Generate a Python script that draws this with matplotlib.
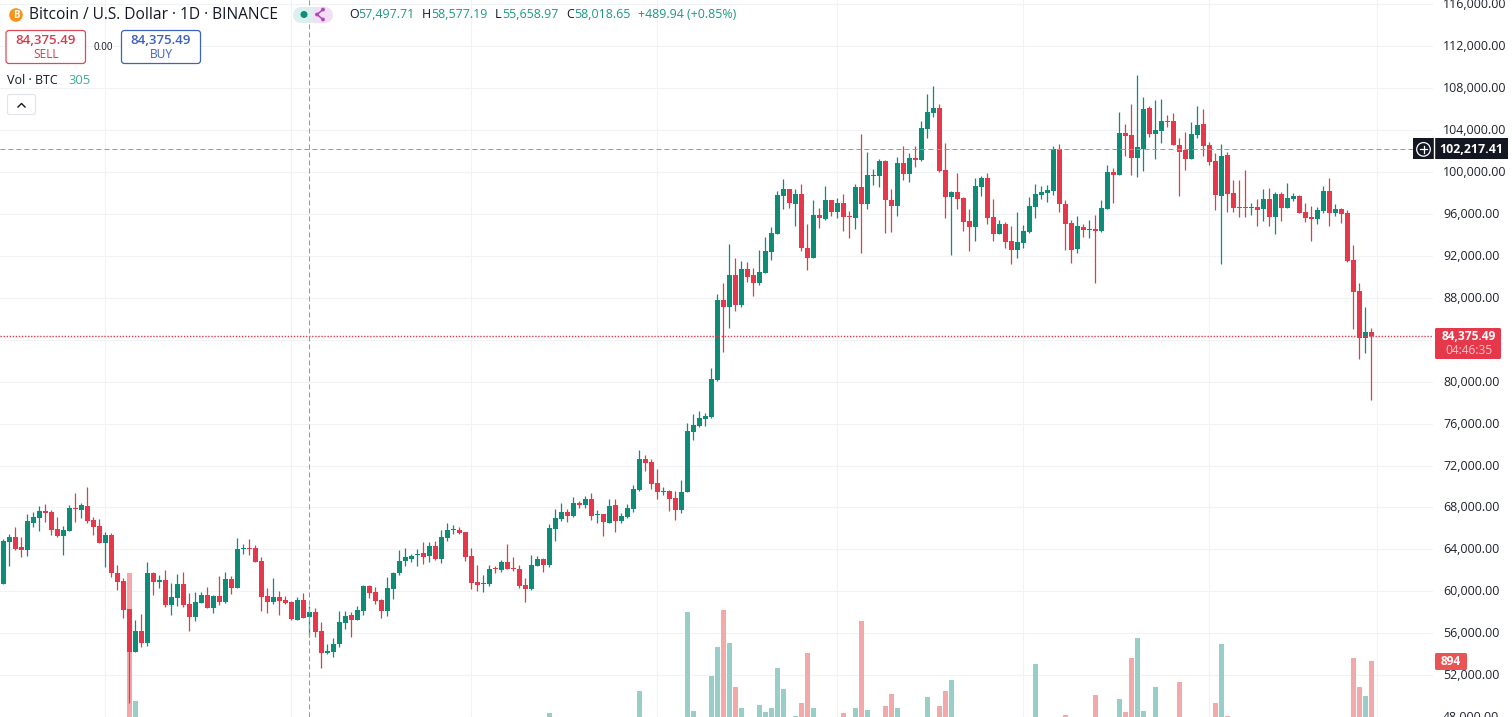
# -*- coding: utf-8 -*-
"""
BTC/USD daily chart, TradingView style
"""

import numpy as np
import matplotlib
matplotlib.use("Agg")
import matplotlib.pyplot as plt
import matplotlib.transforms as mtransforms
from matplotlib.patches import Circle, FancyBboxPatch, Rectangle


# =====================================
#          data
# =====================================
opens = [
    60730, 64700, 65170, 64220, 63940, 66510, 66990, 67650, 67560, 65940,
    65270, 65750, 67940, 67750, 68130, 66790, 66220, 64600, 65370, 61750,
    60980, 58320, 54220, 56220, 55080, 61750, 60890, 61080, 58700, 59370,
    60700, 58790, 57560, 58890, 59650, 58410, 59560, 58980, 61170, 60320,
    64030, 64130, 64130, 62890, 59560, 58980, 59460, 59170, 58980, 57270,
    59170, 57497.71, 58030, 56220, 54130, 54220, 54980, 56980, 57750, 57270,
    58130, 60510, 59940, 59170, 58130, 60220, 61750, 62890, 63080, 63460,
    63650, 63370, 64320, 63080, 65080, 65840, 65840, 65650, 63370, 60890,
    60700, 60700, 62220, 62030, 62790, 62220, 62130, 60600, 60220, 62410,
    63080, 62510, 65940, 66890, 67560, 67170, 68410, 68220, 68790, 67270,
    67370, 66510, 68220, 66700, 67080, 67840, 69650, 72600, 72320, 70320,
    69460, 69560, 68890, 67750, 69430, 75170, 75750, 76410, 76600, 80130,
    87750, 87080, 90220, 87270, 90790, 90220, 89370, 90410, 92410, 94130,
    97750, 98410, 96980, 97940, 92790, 91840, 95940, 95560, 97370, 96220,
    97080, 95840, 95650, 98600, 96980, 99650, 99650, 101080, 97370, 96790,
    100890, 99840, 101370, 101170, 104130, 105650, 106130, 100220, 97650, 98130,
    97560, 95370, 94790, 98600, 99460, 95750, 94130, 95080, 93460, 92600,
    93270, 94320, 96700, 97840, 98030, 98220, 102220, 96980, 95170, 92700,
    94790, 94510, 94600, 94410, 96510, 100030, 99750, 103750, 103560, 101370,
    102220, 106130, 103650, 103940, 104890, 104890, 102600, 102130, 101270, 103560,
    104600, 102600, 101080, 97750, 101650, 98030, 96700, 96700, 96600, 96700,
    96510, 97460, 95750, 97940, 96600, 97460, 97750, 96220, 95750, 95560,
    96320, 98220, 96130, 96510, 96130, 91650, 88700, 84130, 84700,
]
highs = [
    64950, 65460, 66130, 65170, 67370, 67560, 68130, 68320, 67750, 67080,
    66220, 68220, 69370, 68380, 69940, 67080, 66890, 65650, 65560, 62510,
    61270, 58320, 57270, 57840, 62790, 61840, 61560, 62030, 60790, 61650,
    61840, 59840, 59940, 59940, 60410, 59650, 61460, 61840, 61460, 65080,
    64510, 64980, 64410, 63270, 60320, 61270, 60030, 59560, 59080, 59460,
    59840, 58577.19, 58410, 57080, 54980, 55560, 58130, 58130, 58030, 58600,
    60600, 60600, 60410, 59270, 61370, 61840, 63940, 64130, 63560, 64030,
    64700, 64700, 64790, 65840, 66510, 66320, 66130, 65650, 64130, 62510,
    61560, 62510, 62410, 62980, 64510, 63270, 62510, 61270, 63460, 63370,
    63170, 66410, 67840, 68410, 67840, 68980, 68600, 69080, 69370, 67750,
    67370, 68790, 68790, 67460, 68320, 70130, 73460, 72980, 72600, 71650,
    69940, 69650, 69560, 70600, 76090, 76890, 77170, 76980, 81270, 88410,
    89460, 93170, 91840, 91560, 91460, 90890, 92600, 93840, 94790, 98220,
    99370, 98410, 98410, 98890, 95080, 97370, 96600, 98700, 97370, 97560,
    97940, 96320, 98890, 103650, 101940, 100320, 101270, 101170, 98410, 101460,
    102510, 101840, 102510, 104890, 107460, 108220, 106510, 102790, 98220, 99940,
    97650, 96510, 99460, 99650, 99940, 97460, 95460, 95270, 94890, 96220,
    94980, 97650, 98890, 98700, 98790, 102510, 102700, 97370, 95460, 95840,
    95080, 95460, 95940, 97370, 100700, 100410, 105750, 104600, 106510, 109270,
    107170, 106320, 106890, 106980, 105460, 105650, 103270, 103840, 104790, 106320,
    106030, 102890, 101840, 102700, 101940, 99270, 99270, 100220, 97080, 97460,
    98410, 98510, 98130, 98130, 98980, 98030, 97840, 97080, 96790, 96700,
    98700, 99460, 96980, 96600, 96410, 93080, 89370, 87080, 85170,
]
lows = [
    60730, 62410, 63940, 63270, 63370, 66130, 65750, 66600, 65370, 65170,
    63460, 65750, 66600, 66950, 66480, 65370, 64600, 62320, 61370, 60130,
    57460, 49370, 54220, 54700, 54790, 59650, 60320, 58510, 57750, 58600,
    58510, 56220, 57180, 58890, 58410, 57940, 58700, 58890, 59750, 60320,
    63560, 63460, 62790, 58130, 57940, 58790, 57750, 58790, 57270, 57270,
    57460, 55658.97, 55650, 52700, 54030, 53750, 54700, 56410, 55650, 57270,
    57750, 59370, 58790, 57460, 57650, 59270, 61560, 62410, 62790, 62410,
    62600, 62790, 62980, 62700, 64790, 65460, 65460, 62890, 60220, 60030,
    59940, 60510, 61750, 61840, 62130, 61940, 60320, 58980, 60130, 62410,
    61840, 62320, 64790, 66700, 66600, 67080, 67940, 67940, 66790, 66510,
    65270, 66510, 65650, 66510, 66980, 67560, 69560, 71460, 69750, 68790,
    69170, 67650, 66790, 67460, 69430, 74410, 75650, 75750, 76510, 80030,
    82790, 85170, 86700, 87080, 89560, 88220, 89270, 90410, 91650, 94130,
    96510, 96600, 94890, 92510, 90700, 91840, 94700, 95460, 95840, 95650,
    94410, 93750, 94600, 92320, 96510, 98790, 98600, 94220, 94320, 95840,
    99270, 99080, 100510, 101080, 103270, 105270, 100030, 95650, 92130, 96510,
    94410, 92510, 93460, 97750, 95080, 93460, 94130, 92790, 91270, 91840,
    92790, 94220, 95650, 97460, 97170, 97840, 96220, 92600, 91370, 92320,
    93840, 93750, 89460, 94320, 96510, 97080, 99750, 101560, 99750, 99560,
    100130, 103370, 101270, 102790, 104320, 102600, 97750, 100220, 101270, 103270,
    101560, 100700, 96410, 91270, 96220, 96220, 95750, 95750, 95940, 94890,
    95370, 94890, 94130, 95370, 96600, 97270, 96130, 95270, 93460, 95080,
    96130, 94890, 95840, 95170, 91460, 85030, 82130, 82700, 78220,
]
closes = [
    64790, 65170, 64030, 63940, 66700, 67080, 67650, 67460, 65840, 65270,
    65840, 67940, 67840, 68220, 66700, 66130, 64600, 65370, 61750, 60890,
    58220, 54220, 56220, 55080, 61750, 60890, 61080, 58700, 59460, 60700,
    58700, 57560, 58980, 59650, 58410, 59560, 58980, 61170, 60320, 64030,
    64130, 64030, 62790, 59460, 58980, 59460, 59080, 58890, 57370, 59170,
    57460, 58018.65, 56130, 54130, 54320, 54980, 57080, 57650, 57270, 58220,
    60510, 59840, 59080, 58130, 60320, 61750, 62890, 63270, 63370, 63560,
    63270, 64320, 63080, 65170, 65840, 65940, 65560, 63270, 60790, 60600,
    60790, 62130, 62130, 62790, 62130, 62130, 60510, 60220, 62510, 63080,
    62510, 66030, 66980, 67560, 67170, 68410, 68220, 68790, 67170, 67370,
    66600, 68130, 66700, 67170, 67940, 69750, 72600, 72220, 70220, 69460,
    69560, 68790, 67750, 69460, 75270, 75840, 76510, 76700, 80220, 87750,
    87170, 90220, 87270, 90790, 90030, 89370, 90510, 92510, 94220, 97840,
    98410, 97080, 97940, 92790, 91840, 95940, 95650, 97370, 96220, 97080,
    95750, 95750, 98600, 96980, 99750, 99750, 101080, 97370, 96790, 100890,
    99840, 101370, 101170, 104220, 105750, 106130, 100130, 97650, 98130, 97460,
    95270, 94790, 98700, 99460, 95650, 94130, 95080, 93370, 92600, 93370,
    94410, 96790, 97940, 98130, 98320, 102220, 96980, 95080, 92600, 94890,
    94510, 94600, 94410, 96600, 100030, 99750, 103750, 103460, 101370, 102410,
    106030, 103650, 104030, 104890, 104790, 102600, 101940, 101270, 103650, 104510,
    102510, 100980, 97840, 101560, 97940, 96600, 96600, 96600, 96700, 96410,
    97460, 95750, 97940, 96600, 97560, 97750, 96130, 95650, 95560, 96410,
    98220, 96130, 96510, 96030, 91560, 88600, 84130, 84700, 84375.49,
]

# only the volume bars that reach into the visible part of the pane
vol_idx = [21, 22, 91, 106, 114, 115, 118, 119, 120, 121, 122, 123, 126, 127, 128, 129,
           130, 132, 133, 134, 135, 140, 142, 143, 144, 147, 148, 149, 154, 156, 157, 158,
           172, 177, 182, 186, 187, 188, 189, 190, 192, 196, 202, 203, 204, 225, 226, 227, 228]
vol_values = [1629, 560, 460, 643, 1303, 476, 769, 1011, 1320, 1044, 677, 501, 526, 468, 501, 836,
              660, 434, 543, 961, 501, 460, 501, 1228, 485, 518, 618, 501, 593, 518, 643, 735,
              869, 443, 610, 576, 468, 919, 1086, 476, 677, 719, 543, 1036, 434, 919, 677, 602, 894]

month_ticks = [17, 48, 78, 109, 139, 170, 201, 229]
price_ticks = list(range(48000, 116001, 4000))

CROSS_IDX = 51
CROSS_PRICE = 102217.41
LAST_PRICE = 84375.49

GREEN = "#0f8c78"
RED = "#e5384a"
GREEN_VOL = "#97cfc8"
RED_VOL = "#f3a9a9"
GRID = "#f0f2f5"

W, H = 1512, 717
PANE_W = 1432.5
PRICE_MIN, PRICE_MAX = 48000, 116424
VOL_MIN, VOL_MAX = 426, 6417

plt.rcParams['font.family'] = ['Open Sans', 'DejaVu Sans']

fig = plt.figure(figsize=(W / 100, H / 100), dpi=100, facecolor="white")

# grid and price scale at the bottom, then volume, then candles
ax = fig.add_axes([0, 0, PANE_W / W, 1])
ax_vol = ax.twinx()
ax_k = ax.twinx()
ax_vol.set_axis_off()
ax_k.set_axis_off()

x = np.arange(len(closes))
o, h, l, c = map(np.array, (opens, highs, lows, closes))
up = c >= o
colors = np.where(up, GREEN, RED)

# =====================================
#          volume
# =====================================
vol_colors = [GREEN_VOL if up[i] else RED_VOL for i in vol_idx]
ax_vol.bar(vol_idx, vol_values, width=0.84, color=vol_colors, linewidth=0)
ax_vol.set_ylim(VOL_MIN, VOL_MAX)

# =====================================
#          candles
# =====================================
wicks = ax_k.vlines(x, l, h, colors=colors, linewidth=0.9)
wicks.set_snap(True)
ax_k.bar(x, np.maximum(np.abs(c - o), 90), bottom=np.minimum(o, c), width=0.84,
         color=colors, linewidth=0)
ax_k.set_ylim(PRICE_MIN, PRICE_MAX)

ax_k.axhline(LAST_PRICE, color=RED, lw=1.0, ls=(0, (1, 1.2)))
ax_k.axhline(CROSS_PRICE, color="#9598a1", lw=0.72, ls=(0, (5, 3)))
ax_k.axvline(CROSS_IDX, color="#9598a1", lw=0.72, ls=(0, (5, 3)))

# =====================================
#          axes, grid, price scale
# =====================================
ax.set_ylim(PRICE_MIN, PRICE_MAX)
ax.set_xlim(-0.55, (PANE_W - 3.3) / 6)
ax.set_xticks(month_ticks)
ax.set_xticklabels([])
ax.set_yticks(price_ticks)
# 84,000.00 sits under the last price label, so it never shows
ax.set_yticklabels(["" if p == 84000 else f"{p:,.2f}" for p in price_ticks])
ax.yaxis.tick_right()
ax.tick_params(axis='both', length=0)
ax.tick_params(axis='y', pad=7.6, labelsize=8.9, labelcolor="#1e222d", labelright=True, labelleft=False)
for lab in ax.get_yticklabels():
    lab.set_transform(lab.get_transform() + mtransforms.Affine2D().translate(0, 1))
ax.grid(True, color=GRID, linewidth=0.8)
ax.set_axisbelow(True)
for s in ax.spines.values():
    s.set_visible(False)
for a in (ax_vol, ax_k):
    a.patch.set_visible(False)

# =====================================
#          labels and legend, in pixels of the picture
# =====================================
ov = fig.add_axes([0, 0, 1, 1], zorder=10)
ov.set_xlim(0, W)
ov.set_ylim(H, 0)
ov.axis('off')


def price_y(p):
    return H * (PRICE_MAX - p) / (PRICE_MAX - PRICE_MIN)


def round_box(x0, y0, x1, y1, fc, ec, lw=1.0, r=3):
    ov.add_patch(FancyBboxPatch((x0 + r, y0 + r), x1 - x0 - 2 * r, y1 - y0 - 2 * r,
                                boxstyle=f"round,pad={r},rounding_size={r}",
                                fc=fc, ec=ec, lw=lw))


# black crosshair label
cy = price_y(CROSS_PRICE)
ov.add_patch(Rectangle((1413, cy - 10.5), 95, 21, fc="#131722", ec="none"))
ov.plot([1434, 1434], [cy - 10.5, cy + 10.5], color="white", lw=1)
ov.add_patch(Circle((1423.5, cy + 0.5), 6.8, fc="none", ec="white", lw=0.9))
ov.plot([1420, 1427], [cy + 0.5, cy + 0.5], color="white", lw=0.9)
ov.plot([1423.5, 1423.5], [cy - 3, cy + 4], color="white", lw=0.9)
ov.text(1471, cy + 0.5, "102,217.41", color="white", fontsize=8.9, fontweight="bold",
        ha="center", va="center")

# last price label
round_box(1435, 328, 1501, 359, RED, "none", lw=0, r=1.5)
ov.text(1469, 336, "84,375.49", color="white", fontsize=8.6, fontweight="bold",
        ha="center", va="center", linespacing=1.0)
ov.text(1469, 350, "04:46:35", color="#fbc6cb", fontsize=8.6, ha="center", va="center")

# last volume label
round_box(1435, 653, 1467, 670, "#ea5455", "none", lw=0, r=1.5)
ov.text(1451, 661.5, "894", color="white", fontsize=8.6, fontweight="bold", ha="center", va="center")

# title line
ov.add_patch(Circle((16, 15), 6.8, fc="#f7931a", ec="none"))
ov.text(16, 15, "B", color="white", fontsize=7, fontweight="bold", ha="center", va="center")
ov.text(29, 15, "Bitcoin / U.S. Dollar · 1D · BINANCE", color="#131722", fontsize=11.2,
        ha="left", va="center")

# pill with the two status icons
ov.add_patch(Circle((301, 15), 8, fc="#dcefec", ec="none"))
ov.add_patch(Rectangle((301, 7), 12, 16, fc="#dcefec", ec="none"))
ov.add_patch(Rectangle((313, 7), 12, 16, fc="#f2dff4", ec="none"))
ov.add_patch(Circle((325, 15), 8, fc="#f2dff4", ec="none"))
ov.add_patch(Circle((304, 14.5), 3.5, fc="#0b8e7a", ec="none"))
ov.plot([323, 317, 323], [9.5, 14.5, 19.5], color="#ab47bc", lw=1.1)
for nx, ny in [(323, 9.5), (317, 14.5), (323, 19.5)]:
    ov.add_patch(Circle((nx, ny), 1.9, fc="#ab47bc", ec="none"))

# O H L C values
TEAL = "#1b9a85"
for lx, letter, vx, val in [(349, "O", 358, "57,497.71"), (422, "H", 431, "58,577.19"),
                            (495, "L", 502, "55,658.97"), (566, "C", 574, "58,018.65")]:
    ov.text(lx, 15, letter, color="#131722", fontsize=8.9, ha="left", va="center")
    ov.text(vx, 15, val, color=TEAL, fontsize=8.9, ha="left", va="center")
ov.text(637.5, 15, "+489.94 (+0.85%)", color=TEAL, fontsize=8.9, ha="left", va="center")

# sell / buy boxes
round_box(6, 30.5, 85.5, 63.5, "white", "#dc4a58", lw=0.9)
ov.text(46, 40.5, "84,375.49", color="#d83a4a", fontsize=9.5, fontweight="semibold",
        ha="center", va="center")
ov.text(46, 55, "SELL", color="#d83a4a", fontsize=8.6, ha="center", va="center")
ov.text(103.5, 47, "0.00", color="#131722", fontsize=7.1, ha="center", va="center")
round_box(121.5, 30.5, 200.5, 63.5, "white", "#3d62c0", lw=0.9)
ov.text(161, 40.5, "84,375.49", color="#3a5fc0", fontsize=9.5, fontweight="semibold",
        ha="center", va="center")
ov.text(161, 55, "BUY", color="#3a5fc0", fontsize=8.6, ha="center", va="center")

# volume legend
ov.text(7, 81, "Vol · BTC", color="#131722", fontsize=9, ha="left", va="center")
ov.text(68, 81, "305", color="#3fa89a", fontsize=9.4, ha="left", va="center")

# collapse button
round_box(7.5, 94.5, 35.5, 114.5, "white", "#e0e3eb", lw=0.8, r=2)
ov.plot([18, 21.5, 25], [107, 103.5, 107], color="#131722", lw=1.0)

fig.savefig("out.png", dpi=100, facecolor="white")
